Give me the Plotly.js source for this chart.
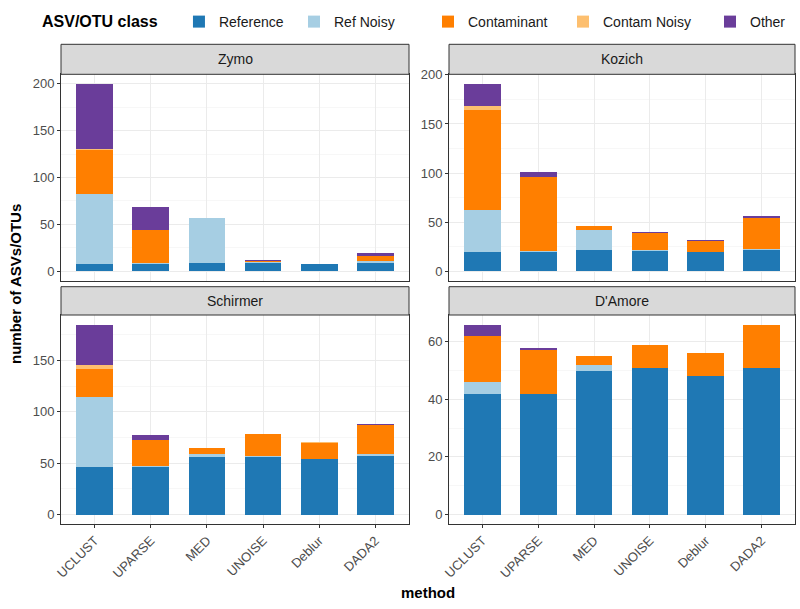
<!DOCTYPE html>
<html>
<head>
<meta charset="utf-8">
<script src="https://cdn.plot.ly/plotly-3.0.1.min.js"></script>
<style>html,body{margin:0;padding:0;background:#fff;}#chart{width:800px;height:609px;}</style>
</head>
<body>
<div id="chart"></div>
<script>
// ---- data ----
const methods = ["UCLUST", "UPARSE", "MED", "UNOISE", "Deblur", "DADA2"];
const classes = ["Reference", "Ref Noisy", "Contaminant", "Contam Noisy", "Other"];
const panels = ["Zymo", "Kozich", "Schirmer", "D'Amore"];

// values per class, in method order
const zymoReference   = [8, 8, 9, 9, 8, 9];
const zymoRefNoisy    = [74, 1, 48, 1, 0, 2];
const zymoContaminant = [47, 35, 0, 1, 0, 5];
const zymoContamNoisy = [1, 0, 0, 0, 0, 0];
const zymoOther       = [70, 25, 0, 1, 0, 4];

const kozichReference   = [20, 20, 22, 21, 20, 22];
const kozichRefNoisy    = [42, 1, 20, 1, 0, 1];
const kozichContaminant = [102, 75, 4, 17, 11, 31];
const kozichContamNoisy = [4, 0, 0, 0, 0, 0];
const kozichOther       = [23, 5, 0, 1, 1, 2];

const schirmerReference   = [46, 46, 56, 56, 54, 57];
const schirmerRefNoisy    = [68, 1, 3, 1, 0, 2];
const schirmerContaminant = [28, 26, 6, 21, 16, 28];
const schirmerContamNoisy = [4, 0, 0, 0, 1, 0];
const schirmerOther       = [39, 4, 0, 0, 0, 1];

const damoreReference   = [42, 42, 50, 51, 48, 51];
const damoreRefNoisy    = [4, 0, 2, 0, 0, 0];
const damoreContaminant = [16, 15, 3, 8, 8, 15];
const damoreContamNoisy = [0, 0, 0, 0, 0, 0];
const damoreOther       = [4, 1, 0, 0, 0, 0];

const yTickStep = [50, 50, 50, 20];

// ---- build ----
const panelData = [
  [zymoReference, zymoRefNoisy, zymoContaminant, zymoContamNoisy, zymoOther],
  [kozichReference, kozichRefNoisy, kozichContaminant, kozichContamNoisy, kozichOther],
  [schirmerReference, schirmerRefNoisy, schirmerContaminant, schirmerContamNoisy, schirmerOther],
  [damoreReference, damoreRefNoisy, damoreContaminant, damoreContamNoisy, damoreOther]
];
const colors = ["#1f78b4", "#a6cee3", "#ff7f00", "#fdbf6f", "#6a3d9a"];

const W = 800, H = 609;
const colPx = [[61, 409], [449, 795]];
const rowPx = [[74.3, 280.7], [315, 524]];
const stripPx = [[44.3, 74.3], [286.7, 315]];
// left edge (px) of each legend group; first one carries the title
const legendPx = [40, 294, 428, 563, 710];
const legendIds = ["legend", "legend2", "legend3", "legend4", "legend5"];

function px2x(p) { return p / W; }
function px2y(p) { return 1 - p / H; }

const traces = [];
const layout = {
  width: W, height: H,
  margin: {l: 0, r: 0, t: 0, b: 0},
  paper_bgcolor: "#fff",
  plot_bgcolor: "#fff",
  barmode: "stack",
  bargap: 0.345,
  font: {family: "Liberation Sans, Arial, sans-serif", color: "#1a1a1a"},
  showlegend: true,
  shapes: [],
  annotations: []
};
legendIds.forEach((id, k) => {
  layout[id] = {
    orientation: "h",
    x: px2x(legendPx[k]), xanchor: "left",
    y: px2y(22), yanchor: "middle",
    font: {size: 14, color: "#1a1a1a"},
    bgcolor: "rgba(0,0,0,0)",
    itemwidth: 30
  };
});
layout.legend.title = {text: "<b>ASV/OTU class</b>   ", side: "left", font: {size: 16, color: "#000"}};

panels.forEach((name, i) => {
  const row = Math.floor(i / 2), col = i % 2;
  const ax = i === 0 ? "" : String(i + 1);
  let maxTotal = 0;
  for (let m = 0; m < methods.length; m++) {
    let s = 0;
    panelData[i].forEach(arr => s += arr[m]);
    if (s > maxTotal) maxTotal = s;
  }
  const pad = maxTotal * 0.05;
  classes.forEach((cls, c) => {
    traces.push({
      type: "bar",
      x: methods,
      y: panelData[i][c],
      name: cls,
      legend: legendIds[c],
      legendgroup: cls,
      showlegend: i === 0,
      marker: {color: colors[c], line: {width: 0}},
      xaxis: "x" + ax,
      yaxis: "y" + ax,
      hoverinfo: "x+y+name"
    });
  });
  const bottom = row === 1;
  layout["xaxis" + ax] = {
    domain: [px2x(colPx[col][0]), px2x(colPx[col][1])],
    anchor: "y" + ax,
    type: "category",
    categoryorder: "array",
    categoryarray: methods,
    range: [-0.6, methods.length - 0.4],
    showgrid: true, gridcolor: "#ebebeb", gridwidth: 1,
    showline: true, mirror: true, linecolor: "#333333", linewidth: 1,
    ticks: bottom ? "outside" : "", ticklen: 3, tickcolor: "#333333",
    showticklabels: bottom,
    tickangle: -45,
    tickfont: {size: 13, color: "#4d4d4d"},
    fixedrange: true
  };
  layout["yaxis" + ax] = {
    domain: [px2y(rowPx[row][1]), px2y(rowPx[row][0])],
    anchor: "x" + ax,
    range: [-pad, maxTotal + pad],
    dtick: yTickStep[i], tick0: 0,
    showgrid: true, gridcolor: "#ebebeb", gridwidth: 1,
    minor: {dtick: yTickStep[i] / 2, showgrid: true, gridcolor: "#f2f2f2", gridwidth: 0.6},
    zeroline: false,
    showline: true, mirror: true, linecolor: "#333333", linewidth: 1,
    ticks: "outside", ticklen: 3, tickcolor: "#333333",
    tickfont: {size: 13, color: "#4d4d4d"},
    fixedrange: true
  };
  layout.shapes.push({
    type: "rect", xref: "paper", yref: "paper",
    x0: px2x(colPx[col][0]), x1: px2x(colPx[col][1]),
    y0: px2y(stripPx[row][1]), y1: px2y(stripPx[row][0]),
    fillcolor: "#d9d9d9", line: {color: "#333333", width: 1}
  });
  layout.annotations.push({
    xref: "paper", yref: "paper",
    x: px2x((colPx[col][0] + colPx[col][1]) / 2),
    y: px2y((stripPx[row][0] + stripPx[row][1]) / 2),
    text: name, showarrow: false,
    xanchor: "center", yanchor: "middle",
    font: {size: 14, color: "#1a1a1a"}
  });
});

layout.annotations.push({
  xref: "paper", yref: "paper",
  x: px2x(15), y: px2y(284),
  text: "<b>number of ASVs/OTUs</b>", textangle: -90, showarrow: false,
  xanchor: "center", yanchor: "middle",
  font: {size: 15, color: "#000"}
});
layout.annotations.push({
  xref: "paper", yref: "paper",
  x: px2x(428), y: px2y(592),
  text: "<b>method</b>", showarrow: false,
  xanchor: "center", yanchor: "middle",
  font: {size: 15, color: "#000"}
});

Plotly.newPlot("chart", traces, layout, {displayModeBar: false, staticPlot: true});
</script>
</body>
</html>
